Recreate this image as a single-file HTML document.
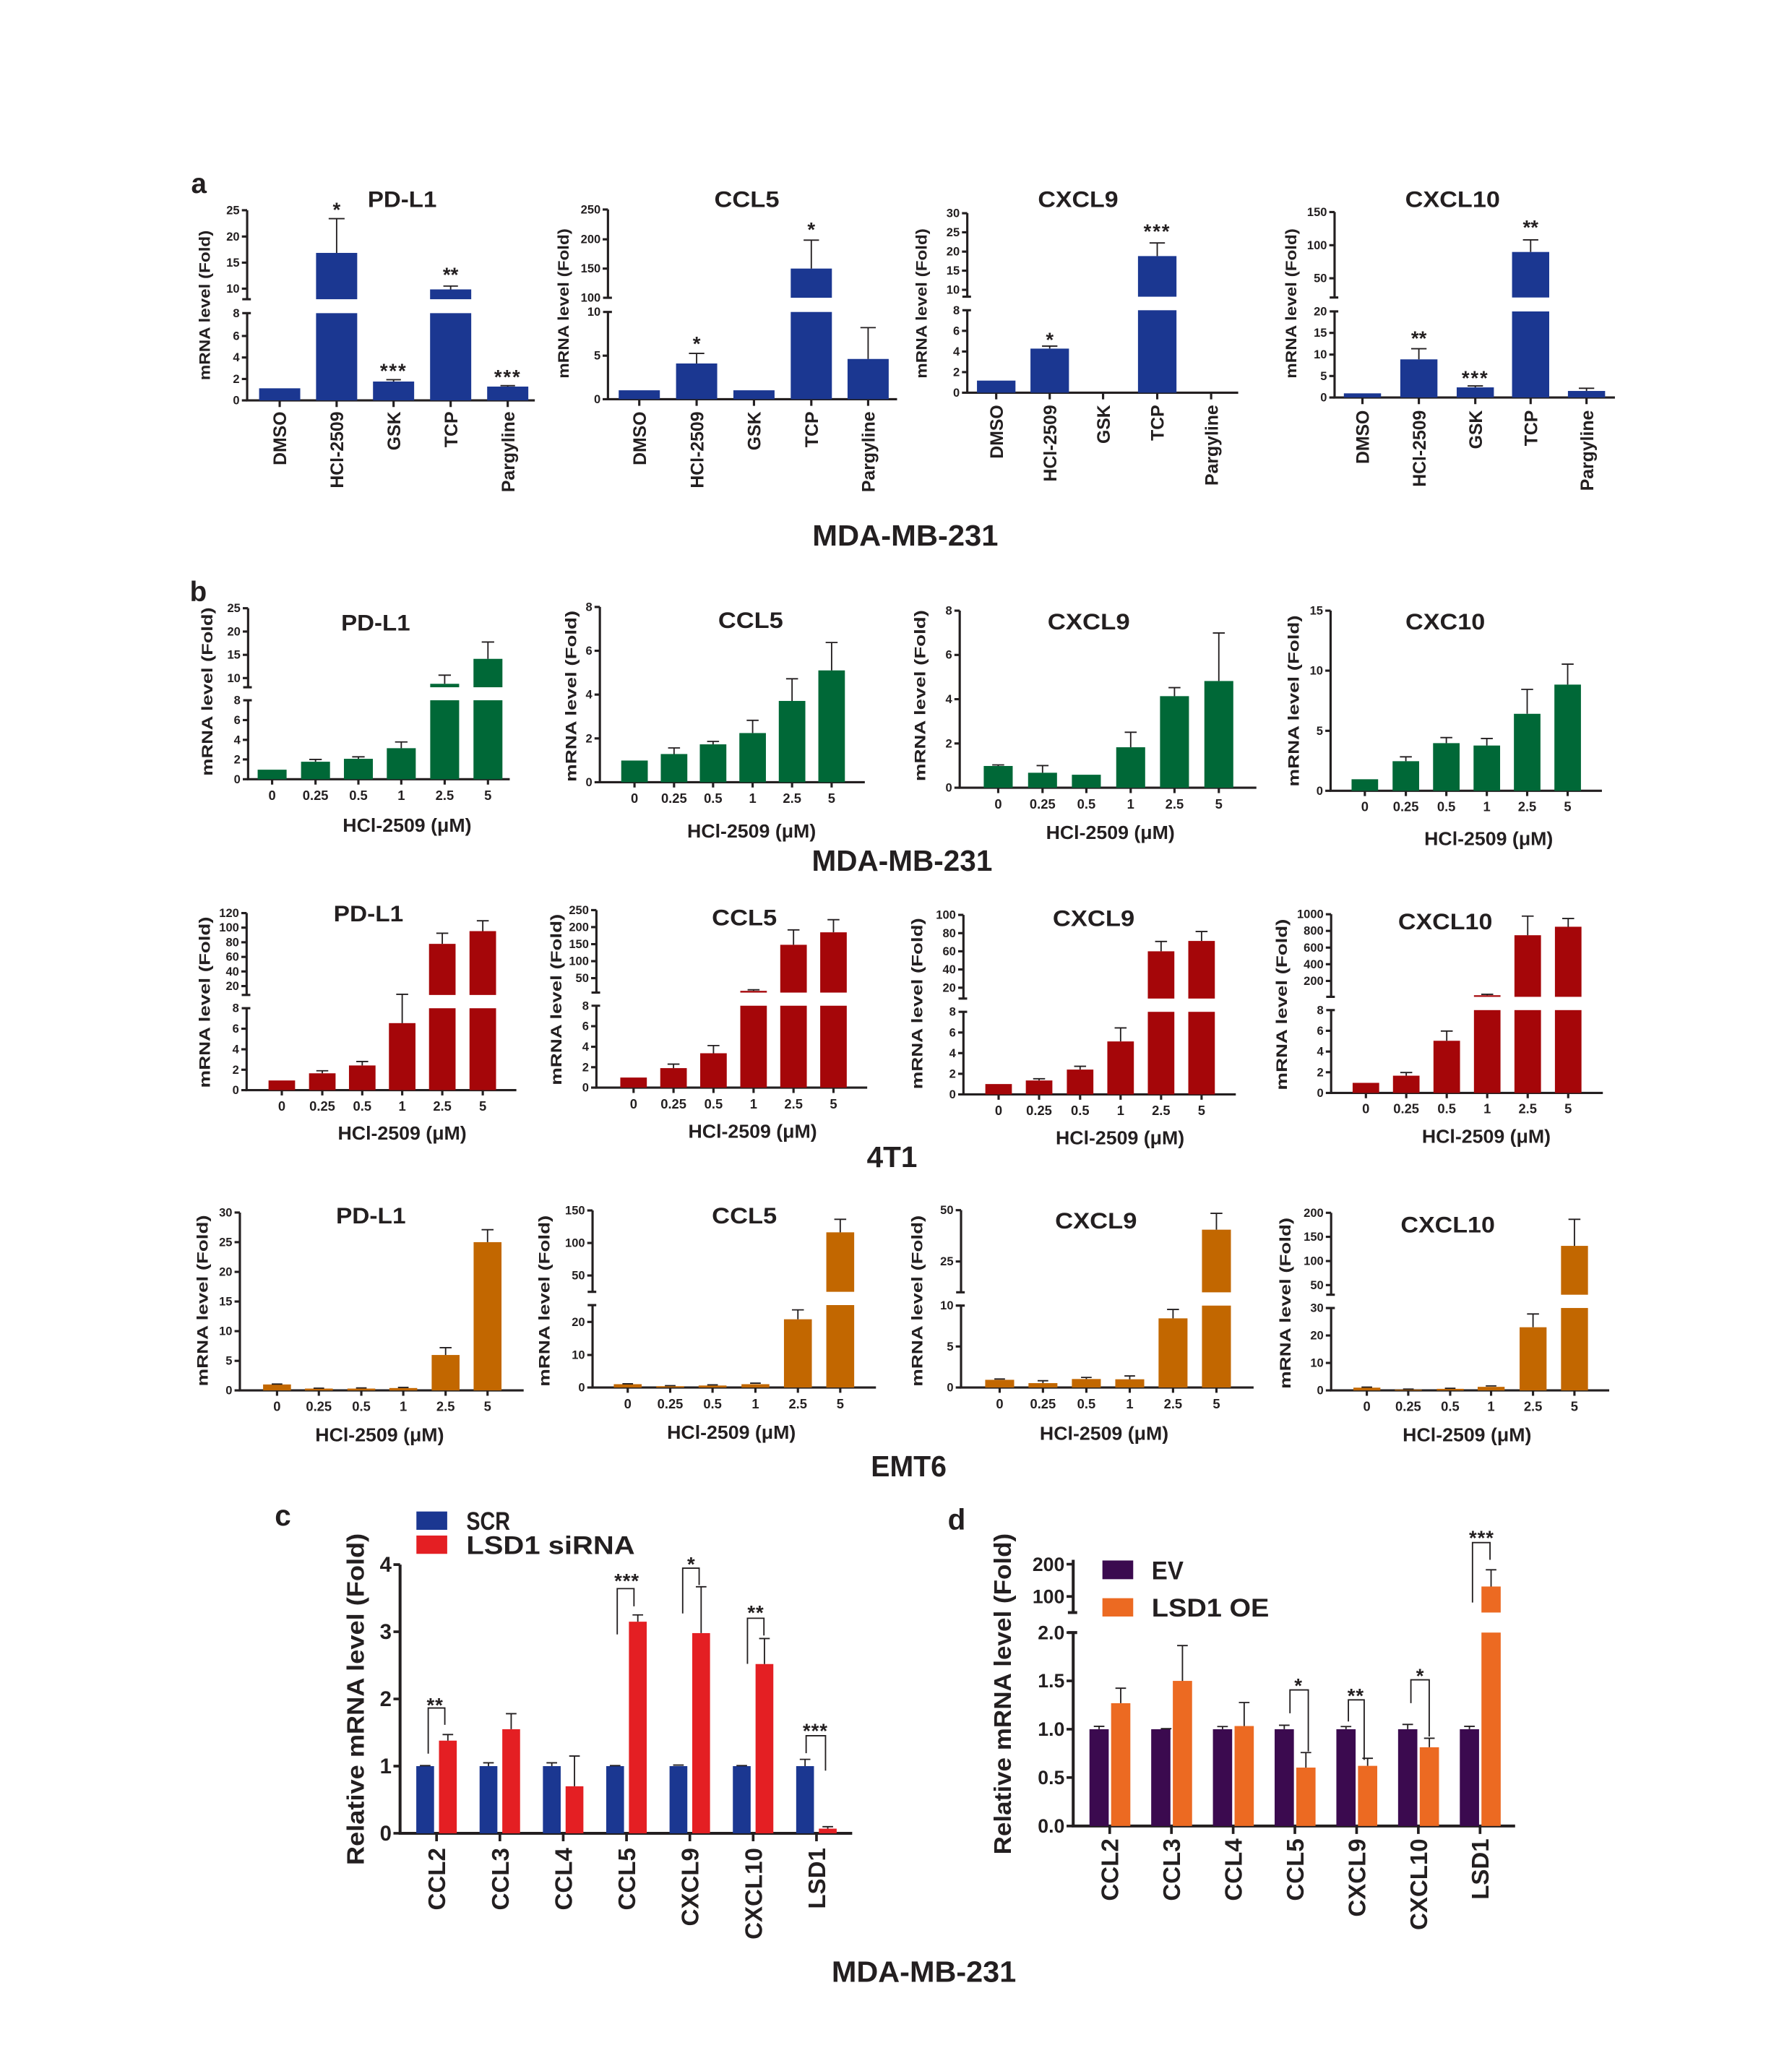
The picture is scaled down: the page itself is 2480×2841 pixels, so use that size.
<!DOCTYPE html>
<html><head><meta charset="utf-8"><style>
html,body{margin:0;padding:0;background:#fff}
svg{display:block}
text{font-family:"Liberation Sans",Arial,sans-serif;font-weight:bold;fill:#231f20}
.ax{stroke:#231f20;stroke-width:1.7;fill:none}
.e{stroke:#231f20;stroke-width:1;fill:none}
.t{font-size:9px;text-anchor:end}
.t2{font-size:10px;text-anchor:middle}
.xl{font-size:13.5px;text-anchor:end}
.yl{font-size:11.5px;text-anchor:middle}
.ti{font-size:17px;text-anchor:middle}
.st{font-size:15px;text-anchor:middle}
.bl{fill:#1b3791}.gr{fill:#006837}.rd{fill:#a50609}.or{fill:#c26700}
.cb{fill:#1b3791}.cr{fill:#e41f23}.dp{fill:#3b0a4f}.do{fill:#ec6a22}
</style></head><body>
<svg width="2480" height="2841" viewBox="0 0 1350 1546.5" xmlns="http://www.w3.org/2000/svg">
<rect width="1350" height="1546.5" fill="#fff"/>

<!-- letters -->
<text x="144" y="145.3" style="font-size:21px">a</text>
<text x="143" y="453" style="font-size:21px">b</text>
<text x="207" y="1149" style="font-size:22px">c</text>
<text x="714" y="1152" style="font-size:22px">d</text>

<!-- ========== PANEL A ========== -->
<!-- a1 PD-L1 -->
<g>
<path class="ax" d="M186.2,235.9V301.6H402.9M186.2,158.4V225.4M182.5,225.4H189M182.5,235.9H189"/>
<path class="ax" d="M182.2,301.6h4M182.2,285.5h4M182.2,269.3h4M182.2,253.1h4M182.2,217.4h4M182.2,197.8h4M182.2,178.2h4M182.2,158.4h4"/>
<text class="t" x="180.5" y="304.6">0</text><text class="t" x="180.5" y="288.5">2</text><text class="t" x="180.5" y="272.3">4</text><text class="t" x="180.5" y="256.1">6</text><text class="t" x="180.5" y="238.9">8</text>
<text class="t" x="180.5" y="220.4">10</text><text class="t" x="180.5" y="200.8">15</text><text class="t" x="180.5" y="181.2">20</text><text class="t" x="180.5" y="161.4">25</text>
<rect class="bl" x="195.2" y="292.5" width="31" height="9.1"/>
<rect class="bl" x="238.1" y="235.9" width="31" height="65.7"/><rect class="bl" x="238.1" y="190.5" width="31" height="34.9"/>
<rect class="bl" x="281" y="287.4" width="31" height="14.2"/>
<rect class="bl" x="324" y="235.9" width="31" height="65.7"/><rect class="bl" x="324" y="218" width="31" height="7.4"/>
<rect class="bl" x="367" y="291.2" width="31" height="10.4"/>
<path class="e" d="M253.6,190.5V164.7M247.6,164.7h12M296.5,287.4V286M291,286h11M339.5,218V215.5M334,215.5h11M382.5,291.2V290.5M377,290.5h11"/>
<path class="ax" d="M210.7,301.6v5M253.6,301.6v5M296.5,301.6v5M339.5,301.6v5M382.5,301.6v5"/>
<text class="st" x="253.6" y="163">*</text><text class="st" x="296.5" y="284.5" letter-spacing="1">***</text><text class="st" x="339.5" y="212">**</text><text class="st" x="382.5" y="289" letter-spacing="1">***</text>
<g class="xl">
<text transform="translate(215.5,310) rotate(-90)">DMSO</text>
<text transform="translate(258.5,310) rotate(-90)">HCl-2509</text>
<text transform="translate(301.5,310) rotate(-90)">GSK</text>
<text transform="translate(344.5,310) rotate(-90)">TCP</text>
<text transform="translate(387.5,310) rotate(-90)">Pargyline</text>
</g>
<text class="yl" transform="translate(158,230) rotate(-90)" textLength="113" lengthAdjust="spacingAndGlyphs">mRNA level (Fold)</text>
<text class="ti" x="303" y="156" textLength="52" lengthAdjust="spacingAndGlyphs">PD-L1</text>
</g>

<!-- a2 CCL5 -->
<g>
<path class="ax" d="M458,235V300.7H675.8M458,157.8V224.3M454.3,224.3H461M454.3,235H461"/>
<path class="ax" d="M454,300.7h4M454,267.9h4M454,202.3h4M454,180.3h4M454,157.8h4"/>
<text class="t" x="452.5" y="303.7">0</text><text class="t" x="452.5" y="270.9">5</text><text class="t" x="452.5" y="238">10</text>
<text class="t" x="452.5" y="227.3">100</text><text class="t" x="452.5" y="205.3">150</text><text class="t" x="452.5" y="183.3">200</text><text class="t" x="452.5" y="160.8">250</text>
<rect class="bl" x="466.1" y="294" width="31" height="6.7"/>
<rect class="bl" x="509.3" y="273.8" width="31" height="26.9"/>
<rect class="bl" x="552.5" y="294" width="31" height="6.7"/>
<rect class="bl" x="595.7" y="235" width="31" height="65.7"/><rect class="bl" x="595.7" y="202.3" width="31" height="22"/>
<rect class="bl" x="638.5" y="270.4" width="31" height="30.3"/>
<path class="e" d="M524.8,273.8V266.2M519,266.2h11.6M611.2,202.3V180.9M605.4,180.9h11.6M654,270.4V246.8M648.2,246.8h11.6"/>
<path class="ax" d="M481.6,300.7v5M524.8,300.7v5M568,300.7v5M611.2,300.7v5M654,300.7v5"/>
<text class="st" x="524.8" y="264">*</text><text class="st" x="611.2" y="178">*</text>
<g class="xl">
<text transform="translate(486.6,310) rotate(-90)">DMSO</text>
<text transform="translate(529.8,310) rotate(-90)">HCl-2509</text>
<text transform="translate(573,310) rotate(-90)">GSK</text>
<text transform="translate(616.2,310) rotate(-90)">TCP</text>
<text transform="translate(659,310) rotate(-90)">Pargyline</text>
</g>
<text class="yl" transform="translate(428.5,228.6) rotate(-90)" textLength="113" lengthAdjust="spacingAndGlyphs">mRNA level (Fold)</text>
<text class="ti" x="562.6" y="156" textLength="49" lengthAdjust="spacingAndGlyphs">CCL5</text>
</g>

<!-- a3 CXCL9 -->
<g>
<path class="ax" d="M728.7,233.7V295.8H932.8M728.7,160.6V223.5M725,223.5H731.5M725,233.7H731.5"/>
<path class="ax" d="M724.7,295.8h4M724.7,280.3h4M724.7,264.8h4M724.7,249.2h4M724.7,218.3h4M724.7,203.9h4M724.7,189.5h4M724.7,175h4M724.7,160.6h4"/>
<text class="t" x="723" y="298.8">0</text><text class="t" x="723" y="283.3">2</text><text class="t" x="723" y="267.8">4</text><text class="t" x="723" y="252.2">6</text><text class="t" x="723" y="236.7">8</text>
<text class="t" x="723" y="221.3">10</text><text class="t" x="723" y="206.9">15</text><text class="t" x="723" y="192.5">20</text><text class="t" x="723" y="178">25</text><text class="t" x="723" y="163.6">30</text>
<rect class="bl" x="736" y="286.7" width="29" height="9.1"/>
<rect class="bl" x="776.3" y="262.6" width="29" height="33.2"/>
<rect class="bl" x="857.3" y="233.7" width="29" height="62.1"/><rect class="bl" x="857.3" y="192.9" width="29" height="30.6"/>
<path class="e" d="M790.8,262.6V260.7M785,260.7h11.6M871.8,192.9V183M866,183h11.6"/>
<path class="ax" d="M750.5,295.8v5M790.8,295.8v5M831,295.8v5M871.8,295.8v5M912.4,295.8v5"/>
<text class="st" x="790.8" y="261">*</text><text class="st" x="871.8" y="179.5" letter-spacing="1">***</text>
<g class="xl">
<text transform="translate(755.5,305) rotate(-90)">DMSO</text>
<text transform="translate(795.8,305) rotate(-90)">HCl-2509</text>
<text transform="translate(836,305) rotate(-90)">GSK</text>
<text transform="translate(876.8,305) rotate(-90)">TCP</text>
<text transform="translate(917.4,305) rotate(-90)">Pargyline</text>
</g>
<text class="yl" transform="translate(698,228.6) rotate(-90)" textLength="113" lengthAdjust="spacingAndGlyphs">mRNA level (Fold)</text>
<text class="ti" x="812.2" y="156" textLength="60.6" lengthAdjust="spacingAndGlyphs">CXCL9</text>
</g>

<!-- a4 CXCL10 -->
<g>
<path class="ax" d="M1005.4,234.6V299.4H1216.6M1005.4,159.7V224.1M1001.7,224.1H1008.2M1001.7,234.6H1008.2"/>
<path class="ax" d="M1001.4,299.4h4M1001.4,283.2h4M1001.4,267.1h4M1001.4,250.8h4M1001.4,209.6h4M1001.4,184.7h4M1001.4,159.7h4"/>
<text class="t" x="999.7" y="302.4">0</text><text class="t" x="999.7" y="286.2">5</text><text class="t" x="999.7" y="270.1">10</text><text class="t" x="999.7" y="253.8">15</text><text class="t" x="999.7" y="237.6">20</text>
<text class="t" x="999.7" y="212.6">50</text><text class="t" x="999.7" y="187.7">100</text><text class="t" x="999.7" y="162.7">150</text>
<rect class="bl" x="1012.4" y="296.3" width="28" height="3.1"/>
<rect class="bl" x="1054.9" y="270.7" width="28" height="28.7"/>
<rect class="bl" x="1097.4" y="291.8" width="28" height="7.6"/>
<rect class="bl" x="1139.1" y="234.6" width="28" height="64.8"/><rect class="bl" x="1139.1" y="189.8" width="28" height="34.3"/>
<rect class="bl" x="1181.2" y="294.5" width="28" height="4.9"/>
<path class="e" d="M1068.9,270.7V262.7M1063.1,262.7h11.6M1111.4,291.8V290.7M1105.6,290.7h11.6M1153.1,189.8V180.7M1147.3,180.7h11.6M1195.2,294.5V292.5M1189.4,292.5h11.6"/>
<path class="ax" d="M1026.4,299.4v5M1068.9,299.4v5M1111.4,299.4v5M1153.1,299.4v5M1195.2,299.4v5"/>
<text class="st" x="1068.9" y="260">**</text><text class="st" x="1111.4" y="290" letter-spacing="1">***</text><text class="st" x="1153.1" y="176.5">**</text>
<g class="xl">
<text transform="translate(1031.4,309) rotate(-90)">DMSO</text>
<text transform="translate(1073.9,309) rotate(-90)">HCl-2509</text>
<text transform="translate(1116.4,309) rotate(-90)">GSK</text>
<text transform="translate(1158.1,309) rotate(-90)">TCP</text>
<text transform="translate(1200.2,309) rotate(-90)">Pargyline</text>
</g>
<text class="yl" transform="translate(976.5,228.6) rotate(-90)" textLength="113" lengthAdjust="spacingAndGlyphs">mRNA level (Fold)</text>
<text class="ti" x="1094.3" y="156" textLength="71.5" lengthAdjust="spacingAndGlyphs">CXCL10</text>
</g>
<text x="682" y="411" style="font-size:22px;text-anchor:middle" textLength="140" lengthAdjust="spacingAndGlyphs">MDA-MB-231</text>

<!-- ========== ROW B (green) ========== -->
<!-- b1 -->
<g>
<path class="ax" d="M186.9,527.5V587H384M186.9,458.2V517.7M183.2,517.7H189.7M183.2,527.5H189.7"/>
<path class="ax" d="M182.9,587h4M182.9,572.1h4M182.9,557.3h4M182.9,542.4h4M182.9,510.8h4M182.9,493.3h4M182.9,475.7h4M182.9,458.2h4"/>
<text class="t" x="181.2" y="590">0</text><text class="t" x="181.2" y="575.1">2</text><text class="t" x="181.2" y="560.3">4</text><text class="t" x="181.2" y="545.4">6</text><text class="t" x="181.2" y="530.5">8</text>
<text class="t" x="181.2" y="513.8">10</text><text class="t" x="181.2" y="496.3">15</text><text class="t" x="181.2" y="478.7">20</text><text class="t" x="181.2" y="461.2">25</text>
<rect class="gr" x="194.1" y="579.8" width="21.8" height="7.2"/>
<rect class="gr" x="226.8" y="573.8" width="21.8" height="13.2"/>
<rect class="gr" x="259.1" y="571.6" width="21.8" height="15.4"/>
<rect class="gr" x="291.4" y="563.6" width="21.8" height="23.4"/>
<rect class="gr" x="324.1" y="527.5" width="21.8" height="59.5"/><rect class="gr" x="324.1" y="515.1" width="21.8" height="2.6"/>
<rect class="gr" x="356.7" y="527.5" width="21.8" height="59.5"/><rect class="gr" x="356.7" y="496.3" width="21.8" height="21.4"/>
<path class="e" d="M237.7,573.8V572.1M233,572.1h9.4M270,571.6V570.1M265.3,570.1h9.4M302.3,563.6V558.9M297.6,558.9h9.4M335,515.1V508.6M330.3,508.6h9.4M367.6,496.3V483.6M362.9,483.6h9.4"/>
<path class="ax" d="M205,587v4M237.7,587v4M270,587v4M302.3,587v4M335,587v4M367.6,587v4"/>
<g class="t2"><text x="205" y="602.5">0</text><text x="237.7" y="602.5">0.25</text><text x="270" y="602.5">0.5</text><text x="302.3" y="602.5">1</text><text x="335" y="602.5">2.5</text><text x="367.6" y="602.5">5</text></g>
<text x="306.7" y="626.5" style="font-size:14px;text-anchor:middle" textLength="97" lengthAdjust="spacingAndGlyphs">HCl-2509 (μM)</text>
<text class="ti" x="283" y="475" textLength="52" lengthAdjust="spacingAndGlyphs">PD-L1</text>
<text class="yl" transform="translate(160,521) rotate(-90)" textLength="127" lengthAdjust="spacingAndGlyphs">mRNA level (Fold)</text>
</g>
<!-- b2 -->
<g>
<path class="ax" d="M451.9,457.2V589.2H651.5"/>
<path class="ax" d="M447.9,589.2h4M447.9,556.2h4M447.9,523.2h4M447.9,490.2h4M447.9,457.2h4"/>
<text class="t" x="446.2" y="592.2">0</text><text class="t" x="446.2" y="559.2">2</text><text class="t" x="446.2" y="526.2">4</text><text class="t" x="446.2" y="493.2">6</text><text class="t" x="446.2" y="460.2">8</text>
<rect class="gr" x="468" y="572.9" width="20" height="16.3"/>
<rect class="gr" x="497.8" y="568" width="20" height="21.2"/>
<rect class="gr" x="527.2" y="560.7" width="20" height="28.5"/>
<rect class="gr" x="557" y="552.2" width="20" height="37"/>
<rect class="gr" x="586.7" y="528" width="20" height="61.2"/>
<rect class="gr" x="616.5" y="505" width="20" height="84.2"/>
<path class="e" d="M507.8,568V563.4M503.3,563.4h9M537.2,560.7V558.5M532.7,558.5h9M567,552.2V542.6M562.5,542.6h9M596.7,528V511.3M592.2,511.3h9M626.5,505V484M622,484h9"/>
<path class="ax" d="M478,589.2v4M507.8,589.2v4M537.2,589.2v4M567,589.2v4M596.7,589.2v4M626.5,589.2v4"/>
<g class="t2"><text x="478" y="604.7">0</text><text x="507.8" y="604.7">0.25</text><text x="537.2" y="604.7">0.5</text><text x="567" y="604.7">1</text><text x="596.7" y="604.7">2.5</text><text x="626.5" y="604.7">5</text></g>
<text x="566.2" y="631" style="font-size:14px;text-anchor:middle" textLength="97" lengthAdjust="spacingAndGlyphs">HCl-2509 (μM)</text>
<text class="ti" x="565.5" y="473" textLength="49" lengthAdjust="spacingAndGlyphs">CCL5</text>
<text class="yl" transform="translate(434,524.4) rotate(-90)" textLength="129" lengthAdjust="spacingAndGlyphs">mRNA level (Fold)</text>
</g>
<!-- b3 -->
<g>
<path class="ax" d="M723,460V593.4H946.5"/>
<path class="ax" d="M719,593.4h4M719,560.05h4M719,526.7h4M719,493.35h4M719,460h4"/>
<text class="t" x="717.3" y="596.4">0</text><text class="t" x="717.3" y="563">2</text><text class="t" x="717.3" y="529.7">4</text><text class="t" x="717.3" y="496.3">6</text><text class="t" x="717.3" y="463">8</text>
<rect class="gr" x="741.1" y="577" width="21.8" height="16.4"/>
<rect class="gr" x="774.5" y="582.1" width="21.8" height="11.3"/>
<rect class="gr" x="807.5" y="583.6" width="21.8" height="9.8"/>
<rect class="gr" x="840.9" y="562.9" width="21.8" height="30.5"/>
<rect class="gr" x="873.9" y="524.4" width="21.8" height="69"/>
<rect class="gr" x="907.3" y="513" width="21.8" height="80.4"/>
<path class="e" d="M752,577V576.2M747.5,576.2h9M785.4,582.1V576.7M780.9,576.7h9M851.8,562.9V551.6M847.3,551.6h9M884.8,524.4V518M880.3,518h9M918.2,513V476.8M913.7,476.8h9"/>
<path class="ax" d="M752,593.4v4M785.4,593.4v4M818.4,593.4v4M851.8,593.4v4M884.8,593.4v4M918.2,593.4v4"/>
<g class="t2"><text x="752" y="609.2">0</text><text x="785.4" y="609.2">0.25</text><text x="818.4" y="609.2">0.5</text><text x="851.8" y="609.2">1</text><text x="884.8" y="609.2">2.5</text><text x="918.2" y="609.2">5</text></g>
<text x="836.5" y="632" style="font-size:14px;text-anchor:middle" textLength="97" lengthAdjust="spacingAndGlyphs">HCl-2509 (μM)</text>
<text class="ti" x="820.2" y="474" textLength="62" lengthAdjust="spacingAndGlyphs">CXCL9</text>
<text class="yl" transform="translate(697,524) rotate(-90)" textLength="129" lengthAdjust="spacingAndGlyphs">mRNA level (Fold)</text>
</g>
<!-- b4 -->
<g>
<path class="ax" d="M1002.4,460V595.7H1206.8"/>
<path class="ax" d="M998.4,595.7h4M998.4,550.5h4M998.4,505.2h4M998.4,460h4"/>
<text class="t" x="996.7" y="598.7">0</text><text class="t" x="996.7" y="553.5">5</text><text class="t" x="996.7" y="508.2">10</text><text class="t" x="996.7" y="463">15</text>
<rect class="gr" x="1018.2" y="587" width="20" height="8.7"/>
<rect class="gr" x="1049.1" y="573.4" width="20" height="22.3"/>
<rect class="gr" x="1079.6" y="559.8" width="20" height="35.9"/>
<rect class="gr" x="1110.1" y="561.6" width="20" height="34.1"/>
<rect class="gr" x="1140.5" y="537.7" width="20" height="58"/>
<rect class="gr" x="1171" y="515.7" width="20" height="80"/>
<path class="e" d="M1059.1,573.4V570.1M1054.6,570.1h9M1089.6,559.8V555.6M1085.1,555.6h9M1120.1,561.6V556.3M1115.6,556.3h9M1150.5,537.7V519.3M1146,519.3h9M1181,515.7V500.3M1176.5,500.3h9"/>
<path class="ax" d="M1028.2,595.7v4M1059.1,595.7v4M1089.6,595.7v4M1120.1,595.7v4M1150.5,595.7v4M1181,595.7v4"/>
<g class="t2"><text x="1028.2" y="611">0</text><text x="1059.1" y="611">0.25</text><text x="1089.6" y="611">0.5</text><text x="1120.1" y="611">1</text><text x="1150.5" y="611">2.5</text><text x="1181" y="611">5</text></g>
<text x="1121.5" y="636.5" style="font-size:14px;text-anchor:middle" textLength="97" lengthAdjust="spacingAndGlyphs">HCl-2509 (μM)</text>
<text class="ti" x="1088.8" y="474" textLength="60" lengthAdjust="spacingAndGlyphs">CXC10</text>
<text class="yl" transform="translate(978.5,528) rotate(-90)" textLength="129" lengthAdjust="spacingAndGlyphs">mRNA level (Fold)</text>
</g>
<text x="679.6" y="656" style="font-size:22px;text-anchor:middle" textLength="136" lengthAdjust="spacingAndGlyphs">MDA-MB-231</text>

<!-- ========== ROW 4T1 (red) ========== -->
<!-- c1 -->
<g>
<path class="ax" d="M185.8,759.5V821.2H389M185.8,687.8V749.5M182.1,749.5H188.6M182.1,759.5H188.6"/>
<path class="ax" d="M181.8,821.2h4M181.8,805.8h4M181.8,790.4h4M181.8,774.9h4M181.8,742.8h4M181.8,731.8h4M181.8,720.8h4M181.8,709.8h4M181.8,698.8h4M181.8,687.8h4"/>
<text class="t" x="180.1" y="824.2">0</text><text class="t" x="180.1" y="808.8">2</text><text class="t" x="180.1" y="793.4">4</text><text class="t" x="180.1" y="777.9">6</text><text class="t" x="180.1" y="762.5">8</text>
<text class="t" x="180.1" y="745.8">20</text><text class="t" x="180.1" y="734.8">40</text><text class="t" x="180.1" y="723.8">60</text><text class="t" x="180.1" y="712.8">80</text><text class="t" x="180.1" y="701.8">100</text><text class="t" x="180.1" y="690.8">120</text>
<rect class="rd" x="202.3" y="813.9" width="20" height="7.3"/>
<rect class="rd" x="232.8" y="808.5" width="20" height="12.7"/>
<rect class="rd" x="262.9" y="802.6" width="20" height="18.6"/>
<rect class="rd" x="293" y="770.7" width="20" height="50.5"/>
<rect class="rd" x="323.2" y="759.5" width="20" height="61.7"/><rect class="rd" x="323.2" y="711" width="20" height="38.5"/>
<rect class="rd" x="353.7" y="759.5" width="20" height="61.7"/><rect class="rd" x="353.7" y="701.4" width="20" height="48.1"/>
<path class="e" d="M242.8,808.5V806.6M238.3,806.6h9M272.9,802.6V799.6M268.4,799.6h9M303,770.7V749M298.5,749h9M333.2,711V703M328.7,703h9M363.7,701.4V693.6M359.2,693.6h9"/>
<path class="ax" d="M212.3,821.2v4M242.8,821.2v4M272.9,821.2v4M303,821.2v4M333.2,821.2v4M363.7,821.2v4"/>
<g class="t2"><text x="212.3" y="836.7">0</text><text x="242.8" y="836.7">0.25</text><text x="272.9" y="836.7">0.5</text><text x="303" y="836.7">1</text><text x="333.2" y="836.7">2.5</text><text x="363.7" y="836.7">5</text></g>
<text x="303" y="858.5" style="font-size:14px;text-anchor:middle" textLength="97" lengthAdjust="spacingAndGlyphs">HCl-2509 (μM)</text>
<text class="ti" x="277.6" y="694" textLength="52.6" lengthAdjust="spacingAndGlyphs">PD-L1</text>
<text class="yl" transform="translate(158,755) rotate(-90)" textLength="129" lengthAdjust="spacingAndGlyphs">mRNA level (Fold)</text>
</g>
<!-- c2 -->
<g>
<path class="ax" d="M449.3,757.6V819.3H653.3M449.3,685.6V747.7M445.6,747.7H452.1M445.6,757.6H452.1"/>
<path class="ax" d="M445.3,819.3h4M445.3,803.9h4M445.3,788.5h4M445.3,773h4M445.3,736.8h4M445.3,724h4M445.3,711.2h4M445.3,698.4h4M445.3,685.6h4"/>
<text class="t" x="443.6" y="822.3">0</text><text class="t" x="443.6" y="806.9">2</text><text class="t" x="443.6" y="791.5">4</text><text class="t" x="443.6" y="776">6</text><text class="t" x="443.6" y="760.6">8</text>
<text class="t" x="443.6" y="739.8">50</text><text class="t" x="443.6" y="727">100</text><text class="t" x="443.6" y="714.2">150</text><text class="t" x="443.6" y="701.4">200</text><text class="t" x="443.6" y="688.6">250</text>
<rect class="rd" x="467.3" y="811.7" width="20" height="7.6"/>
<rect class="rd" x="497.4" y="804.6" width="20" height="14.7"/>
<rect class="rd" x="527.5" y="793.4" width="20" height="25.9"/>
<rect class="rd" x="557.7" y="757.6" width="20" height="61.7"/><rect class="rd" x="557.7" y="746.4" width="20" height="1.3"/>
<rect class="rd" x="587.8" y="757.6" width="20" height="61.7"/><rect class="rd" x="587.8" y="711.7" width="20" height="36"/>
<rect class="rd" x="617.9" y="757.6" width="20" height="61.7"/><rect class="rd" x="617.9" y="702.3" width="20" height="45.4"/>
<path class="e" d="M507.4,804.6V801.6M502.9,801.6h9M537.5,793.4V787.6M533,787.6h9M567.7,746.4V745.6M563.2,745.6h9M597.8,711.7V700.5M593.3,700.5h9M627.9,702.3V692.8M623.4,692.8h9"/>
<path class="ax" d="M477.3,819.3v4M507.4,819.3v4M537.5,819.3v4M567.7,819.3v4M597.8,819.3v4M627.9,819.3v4"/>
<g class="t2"><text x="477.3" y="835">0</text><text x="507.4" y="835">0.25</text><text x="537.5" y="835">0.5</text><text x="567.7" y="835">1</text><text x="597.8" y="835">2.5</text><text x="627.9" y="835">5</text></g>
<text x="567" y="857" style="font-size:14px;text-anchor:middle" textLength="97" lengthAdjust="spacingAndGlyphs">HCl-2509 (μM)</text>
<text class="ti" x="560.8" y="697" textLength="49" lengthAdjust="spacingAndGlyphs">CCL5</text>
<text class="yl" transform="translate(423,753) rotate(-90)" textLength="129" lengthAdjust="spacingAndGlyphs">mRNA level (Fold)</text>
</g>
<!-- c3 -->
<g>
<path class="ax" d="M725.8,762.2V824.4H931M725.8,689.2V752.2M722.1,752.2H728.6M722.1,762.2H728.6"/>
<path class="ax" d="M721.8,824.4h4M721.8,808.85h4M721.8,793.3h4M721.8,777.75h4M721.8,744h4M721.8,730.3h4M721.8,716.6h4M721.8,702.9h4M721.8,689.2h4"/>
<text class="t" x="720.1" y="827.4">0</text><text class="t" x="720.1" y="811.9">2</text><text class="t" x="720.1" y="796.3">4</text><text class="t" x="720.1" y="780.8">6</text><text class="t" x="720.1" y="765.2">8</text>
<text class="t" x="720.1" y="747">20</text><text class="t" x="720.1" y="733.3">40</text><text class="t" x="720.1" y="719.6">60</text><text class="t" x="720.1" y="705.9">80</text><text class="t" x="720.1" y="692.2">100</text>
<rect class="rd" x="742.3" y="816.6" width="20" height="7.8"/>
<rect class="rd" x="772.8" y="813.9" width="20" height="10.5"/>
<rect class="rd" x="803.7" y="805.7" width="20" height="18.7"/>
<rect class="rd" x="834.2" y="784.5" width="20" height="39.9"/>
<rect class="rd" x="864.7" y="762.2" width="20" height="62.2"/><rect class="rd" x="864.7" y="716.6" width="20" height="35.6"/>
<rect class="rd" x="895.2" y="762.2" width="20" height="62.2"/><rect class="rd" x="895.2" y="708.8" width="20" height="43.4"/>
<path class="e" d="M782.8,813.9V812.6M778.3,812.6h9M813.7,805.7V803.2M809.2,803.2h9M844.2,784.5V774.3M839.7,774.3h9M874.7,716.6V709.2M870.2,709.2h9M905.2,708.8V701.7M900.7,701.7h9"/>
<path class="ax" d="M752.3,824.4v4M782.8,824.4v4M813.7,824.4v4M844.2,824.4v4M874.7,824.4v4M905.2,824.4v4"/>
<g class="t2"><text x="752.3" y="840">0</text><text x="782.8" y="840">0.25</text><text x="813.7" y="840">0.5</text><text x="844.2" y="840">1</text><text x="874.7" y="840">2.5</text><text x="905.2" y="840">5</text></g>
<text x="843.8" y="862" style="font-size:14px;text-anchor:middle" textLength="97" lengthAdjust="spacingAndGlyphs">HCl-2509 (μM)</text>
<text class="ti" x="823.9" y="697.5" textLength="61.7" lengthAdjust="spacingAndGlyphs">CXCL9</text>
<text class="yl" transform="translate(695,756) rotate(-90)" textLength="129" lengthAdjust="spacingAndGlyphs">mRNA level (Fold)</text>
</g>
<!-- c4 -->
<g>
<path class="ax" d="M1002.8,760.9V823.3H1207.5M1002.8,688.7V750.9M999.1,750.9H1005.6M999.1,760.9H1005.6"/>
<path class="ax" d="M998.8,823.3h4M998.8,807.7h4M998.8,792.1h4M998.8,776.5h4M998.8,738.9h4M998.8,726.3h4M998.8,713.8h4M998.8,701.2h4M998.8,688.7h4"/>
<text class="t" x="997.1" y="826.3">0</text><text class="t" x="997.1" y="810.7">2</text><text class="t" x="997.1" y="795.1">4</text><text class="t" x="997.1" y="779.5">6</text><text class="t" x="997.1" y="763.9">8</text>
<text class="t" x="997.1" y="741.9">200</text><text class="t" x="997.1" y="729.3">400</text><text class="t" x="997.1" y="716.8">600</text><text class="t" x="997.1" y="704.2">800</text><text class="t" x="997.1" y="691.7">1000</text>
<rect class="rd" x="1019" y="815.7" width="20" height="7.6"/>
<rect class="rd" x="1049.4" y="810.3" width="20" height="13"/>
<rect class="rd" x="1079.9" y="784" width="20" height="39.3"/>
<rect class="rd" x="1110.4" y="760.9" width="20" height="62.4"/><rect class="rd" x="1110.4" y="749.7" width="20" height="1.2"/>
<rect class="rd" x="1140.9" y="760.9" width="20" height="62.4"/><rect class="rd" x="1140.9" y="704.5" width="20" height="46.4"/>
<rect class="rd" x="1171.4" y="760.9" width="20" height="62.4"/><rect class="rd" x="1171.4" y="698.1" width="20" height="52.8"/>
<path class="e" d="M1059.4,810.3V807.9M1054.9,807.9h9M1089.9,784V776.7M1085.4,776.7h9M1120.4,749.7V749M1115.9,749h9M1150.9,704.5V690.1M1146.4,690.1h9M1181.4,698.1V691.9M1176.9,691.9h9"/>
<path class="ax" d="M1029,823.3v4M1059.4,823.3v4M1089.9,823.3v4M1120.4,823.3v4M1150.9,823.3v4M1181.4,823.3v4"/>
<g class="t2"><text x="1029" y="838.5">0</text><text x="1059.4" y="838.5">0.25</text><text x="1089.9" y="838.5">0.5</text><text x="1120.4" y="838.5">1</text><text x="1150.9" y="838.5">2.5</text><text x="1181.4" y="838.5">5</text></g>
<text x="1119.7" y="861" style="font-size:14px;text-anchor:middle" textLength="97" lengthAdjust="spacingAndGlyphs">HCl-2509 (μM)</text>
<text class="ti" x="1088.8" y="700" textLength="71" lengthAdjust="spacingAndGlyphs">CXCL10</text>
<text class="yl" transform="translate(969.4,756.7) rotate(-90)" textLength="129" lengthAdjust="spacingAndGlyphs">mRNA level (Fold)</text>
</g>
<text x="672" y="879" style="font-size:22px;text-anchor:middle" textLength="38" lengthAdjust="spacingAndGlyphs">4T1</text>

<!-- ========== ROW EMT6 (orange) ========== -->
<!-- e1 -->
<g>
<path class="ax" d="M180.7,913.4V1047.4H394.5"/>
<path class="ax" d="M176.7,1047.4h4M176.7,1025.1h4M176.7,1002.7h4M176.7,980.4h4M176.7,958.1h4M176.7,935.7h4M176.7,913.4h4"/>
<text class="t" x="175" y="1050.4">0</text><text class="t" x="175" y="1028.1">5</text><text class="t" x="175" y="1005.7">10</text><text class="t" x="175" y="983.4">15</text><text class="t" x="175" y="961.1">20</text><text class="t" x="175" y="938.7">25</text><text class="t" x="175" y="916.4">30</text>
<rect class="or" x="198.2" y="1042.9" width="21" height="4.5"/>
<rect class="or" x="229.7" y="1046" width="21" height="1.4"/>
<rect class="or" x="261.7" y="1046" width="21" height="1.4"/>
<rect class="or" x="293.3" y="1045.6" width="21" height="1.8"/>
<rect class="or" x="325.2" y="1020.7" width="21" height="26.7"/>
<rect class="or" x="356.8" y="935.7" width="21" height="111.7"/>
<path class="e" d="M204.7,1042.6h8M236.2,1045.7h8M268.2,1045.5h8M299.8,1045.1h8M335.7,1020.7V1015.2M331.2,1015.2h9M367.3,935.7V926.3M362.8,926.3h9"/>
<path class="ax" d="M208.7,1047.4v4M240.2,1047.4v4M272.2,1047.4v4M303.8,1047.4v4M335.7,1047.4v4M367.3,1047.4v4"/>
<g class="t2"><text x="208.7" y="1062.9">0</text><text x="240.2" y="1062.9">0.25</text><text x="272.2" y="1062.9">0.5</text><text x="303.8" y="1062.9">1</text><text x="335.7" y="1062.9">2.5</text><text x="367.3" y="1062.9">5</text></g>
<text x="286" y="1085.6" style="font-size:14px;text-anchor:middle" textLength="97" lengthAdjust="spacingAndGlyphs">HCl-2509 (μM)</text>
<text class="ti" x="279.4" y="921.5" textLength="52.6" lengthAdjust="spacingAndGlyphs">PD-L1</text>
<text class="yl" transform="translate(156.4,979.8) rotate(-90)" textLength="129" lengthAdjust="spacingAndGlyphs">mRNA level (Fold)</text>
</g>
<!-- e2 -->
<g>
<path class="ax" d="M446.4,983.1V1045.2H659.9M446.4,911.8V973.1M442.7,973.1H449.2M442.7,983.1H449.2"/>
<path class="ax" d="M442.4,1045.2h4M442.4,1020.7h4M442.4,995.8h4M442.4,960.8h4M442.4,936.3h4M442.4,911.8h4"/>
<text class="t" x="440.7" y="1048.2">0</text><text class="t" x="440.7" y="1023.7">10</text><text class="t" x="440.7" y="998.8">20</text>
<text class="t" x="440.7" y="963.8">50</text><text class="t" x="440.7" y="939.3">100</text><text class="t" x="440.7" y="914.8">150</text>
<rect class="or" x="462.4" y="1042.7" width="21" height="2.5"/>
<rect class="or" x="494.4" y="1044.2" width="21" height="1"/>
<rect class="or" x="526.3" y="1043.7" width="21" height="1.5"/>
<rect class="or" x="558.6" y="1042.7" width="21" height="2.5"/>
<rect class="or" x="590.6" y="993.8" width="21" height="51.4"/>
<rect class="or" x="622.5" y="983.1" width="21" height="62.1"/><rect class="or" x="622.5" y="928.3" width="21" height="44.8"/>
<path class="e" d="M468.9,1042.4h8M500.9,1043.8h8M532.8,1043.2h8M565.1,1041.9h8M601.1,993.8V986.7M596.6,986.7h9M633,928.3V918.5M628.5,918.5h9"/>
<path class="ax" d="M472.9,1045.2v4M504.9,1045.2v4M536.8,1045.2v4M569.1,1045.2v4M601.1,1045.2v4M633,1045.2v4"/>
<g class="t2"><text x="472.9" y="1061">0</text><text x="504.9" y="1061">0.25</text><text x="536.8" y="1061">0.5</text><text x="569.1" y="1061">1</text><text x="601.1" y="1061">2.5</text><text x="633" y="1061">5</text></g>
<text x="551" y="1083.8" style="font-size:14px;text-anchor:middle" textLength="97" lengthAdjust="spacingAndGlyphs">HCl-2509 (μM)</text>
<text class="ti" x="560.8" y="921.5" textLength="49" lengthAdjust="spacingAndGlyphs">CCL5</text>
<text class="yl" transform="translate(414,980) rotate(-90)" textLength="129" lengthAdjust="spacingAndGlyphs">mRNA level (Fold)</text>
</g>
<!-- e3 -->
<g>
<path class="ax" d="M724,983.5V1045.2H944.4M724,911.6V973.5M720.3,973.5H726.8M720.3,983.5H726.8"/>
<path class="ax" d="M720,1045.2h4M720,1014.3h4M720,983.5h4M720,950.3h4M720,911.6h4"/>
<text class="t" x="718.3" y="1048.2">0</text><text class="t" x="718.3" y="1017.3">5</text><text class="t" x="718.3" y="986.5">10</text><text class="t" x="718.3" y="953.3">25</text><text class="t" x="718.3" y="914.6">50</text>
<rect class="or" x="742.2" y="1039.4" width="21.8" height="5.8"/>
<rect class="or" x="774.8" y="1041.9" width="21.8" height="3.3"/>
<rect class="or" x="807.5" y="1038.8" width="21.8" height="6.4"/>
<rect class="or" x="840.2" y="1039" width="21.8" height="6.2"/>
<rect class="or" x="872.8" y="993.1" width="21.8" height="52.1"/>
<rect class="or" x="905.5" y="983.5" width="21.8" height="61.7"/><rect class="or" x="905.5" y="926.3" width="21.8" height="47.2"/>
<path class="e" d="M749.1,1038.8h8M785.7,1041.9V1040.1M781.7,1040.1h8M818.4,1038.8V1037.6M814.4,1037.6h8M851.1,1039V1036.5M847.1,1036.5h8M883.7,993.1V986.4M879.2,986.4h9M916.4,926.3V914M911.9,914h9"/>
<path class="ax" d="M753.1,1045.2v4M785.7,1045.2v4M818.4,1045.2v4M851.1,1045.2v4M883.7,1045.2v4M916.4,1045.2v4"/>
<g class="t2"><text x="753.1" y="1061">0</text><text x="785.7" y="1061">0.25</text><text x="818.4" y="1061">0.5</text><text x="851.1" y="1061">1</text><text x="883.7" y="1061">2.5</text><text x="916.4" y="1061">5</text></g>
<text x="831.8" y="1084.7" style="font-size:14px;text-anchor:middle" textLength="97" lengthAdjust="spacingAndGlyphs">HCl-2509 (μM)</text>
<text class="ti" x="825.7" y="925.5" textLength="61.7" lengthAdjust="spacingAndGlyphs">CXCL9</text>
<text class="yl" transform="translate(695,980) rotate(-90)" textLength="129" lengthAdjust="spacingAndGlyphs">mRNA level (Fold)</text>
</g>
<!-- e4 -->
<g>
<path class="ax" d="M1002.8,985.3V1047.4H1212.3M1002.8,913.6V975.3M999.1,975.3H1005.6M999.1,985.3H1005.6"/>
<path class="ax" d="M998.8,1047.4h4M998.8,1026.7h4M998.8,1006h4M998.8,985.3h4M998.8,968h4M998.8,949.9h4M998.8,931.7h4M998.8,913.6h4"/>
<text class="t" x="997.1" y="1050.4">0</text><text class="t" x="997.1" y="1029.7">10</text><text class="t" x="997.1" y="1009">20</text><text class="t" x="997.1" y="988.3">30</text>
<text class="t" x="997.1" y="971">50</text><text class="t" x="997.1" y="952.9">100</text><text class="t" x="997.1" y="934.7">150</text><text class="t" x="997.1" y="916.6">200</text>
<rect class="or" x="1019.6" y="1045.3" width="20.3" height="2.1"/>
<rect class="or" x="1050.8" y="1046.8" width="20.3" height="0.6"/>
<rect class="or" x="1082.4" y="1046.2" width="20.3" height="1.2"/>
<rect class="or" x="1113.2" y="1044.7" width="20.3" height="2.7"/>
<rect class="or" x="1144.8" y="999.8" width="20.3" height="47.6"/>
<rect class="or" x="1176" y="985.3" width="20.3" height="62.1"/><rect class="or" x="1176" y="938.5" width="20.3" height="36.8"/>
<path class="e" d="M1025.7,1044.9h8M1057,1046.4h8M1088.5,1045.8h8M1119.3,1044h8M1154.9,999.8V989.8M1150.4,989.8h9M1186.1,938.5V918.5M1181.6,918.5h9"/>
<path class="ax" d="M1029.7,1047.4v4M1060.9,1047.4v4M1092.5,1047.4v4M1123.3,1047.4v4M1154.9,1047.4v4M1186.1,1047.4v4"/>
<g class="t2"><text x="1029.7" y="1062.9">0</text><text x="1060.9" y="1062.9">0.25</text><text x="1092.5" y="1062.9">0.5</text><text x="1123.3" y="1062.9">1</text><text x="1154.9" y="1062.9">2.5</text><text x="1186.1" y="1062.9">5</text></g>
<text x="1105.2" y="1085.6" style="font-size:14px;text-anchor:middle" textLength="97" lengthAdjust="spacingAndGlyphs">HCl-2509 (μM)</text>
<text class="ti" x="1090.7" y="928.5" textLength="71" lengthAdjust="spacingAndGlyphs">CXCL10</text>
<text class="yl" transform="translate(972.3,981.7) rotate(-90)" textLength="129" lengthAdjust="spacingAndGlyphs">mRNA level (Fold)</text>
</g>
<text x="684.6" y="1112" style="font-size:22px;text-anchor:middle" textLength="57" lengthAdjust="spacingAndGlyphs">EMT6</text>

<!-- ========== PANEL C ========== -->
<g>
<rect class="cb" x="313.7" y="1138.6" width="23.2" height="13.8"/>
<rect class="cr" x="313.7" y="1156.7" width="23.2" height="13.8"/>
<text x="351.3" y="1152.4" style="font-size:19px" textLength="33" lengthAdjust="spacingAndGlyphs">SCR</text>
<text x="351.3" y="1170.5" style="font-size:19px" textLength="127" lengthAdjust="spacingAndGlyphs">LSD1 siRNA</text>
<path class="ax" d="M301.4,1178.6V1381H642" style="stroke-width:2.2"/>
<path class="ax" d="M296.4,1381h5M296.4,1330.4h5M296.4,1279.8h5M296.4,1229.2h5M296.4,1178.6h5" style="stroke-width:2"/>
<g style="font-size:16px;text-anchor:end"><text x="295" y="1386.5">0</text><text x="295" y="1335.9">1</text><text x="295" y="1285.3">2</text><text x="295" y="1234.7">3</text><text x="295" y="1184.1">4</text></g>
<rect class="cb" x="313.6" y="1330.4" width="13.4" height="50.6"/><rect class="cr" x="330.7" y="1311.2" width="13.4" height="69.8"/>
<rect class="cb" x="361.3" y="1330.4" width="13.4" height="50.6"/><rect class="cr" x="378.4" y="1302.6" width="13.4" height="78.4"/>
<rect class="cb" x="409" y="1330.4" width="13.4" height="50.6"/><rect class="cr" x="426.1" y="1345.6" width="13.4" height="35.4"/>
<rect class="cb" x="456.7" y="1330.4" width="13.4" height="50.6"/><rect class="cr" x="473.8" y="1221.6" width="13.4" height="159.4"/>
<rect class="cb" x="504.4" y="1330.4" width="13.4" height="50.6"/><rect class="cr" x="521.5" y="1230.2" width="13.4" height="150.8"/>
<rect class="cb" x="552.1" y="1330.4" width="13.4" height="50.6"/><rect class="cr" x="569.2" y="1253.5" width="13.4" height="127.5"/>
<rect class="cb" x="599.8" y="1330.4" width="13.4" height="50.6"/><rect class="cr" x="616.9" y="1377.5" width="13.4" height="3.5"/>
<path class="e" d="M316.3,1330h8M337.4,1311.2V1306.6M333.4,1306.6h8M368,1330.4V1327.9M364,1327.9h8M385.1,1302.6V1290.9M381.1,1290.9h8M415.7,1330.4V1327.9M411.7,1327.9h8M432.8,1345.6V1322.8M428.8,1322.8h8M459.4,1330h8M480.5,1221.6V1216.5M476.5,1216.5h8M507.1,1329.6h8M528.2,1230.2V1195.3M524.2,1195.3h8M554.8,1330h8M575.9,1253.5V1234.3M571.9,1234.3h8M606.5,1330.4V1325.3M602.5,1325.3h8M623.6,1377.5V1376M619.6,1376h8"/>
<path class="e" d="M322.6,1321V1286.6H335.1V1299.3M465,1231.2V1196.7H477.6V1210M514.3,1215.4V1181.3H526.7V1194M563.1,1253.4V1219H575.5V1232M607.3,1320.7V1307.5H621.9V1333.8"/>
<g class="st"><text x="327.8" y="1289.5" letter-spacing="0.5">**</text><text x="472.3" y="1196" letter-spacing="0.5">***</text><text x="520.6" y="1183.5">*</text><text x="569.4" y="1220" letter-spacing="0.5">**</text><text x="614.3" y="1309" letter-spacing="0.5">***</text></g>
<path class="ax" d="M328.9,1381v6M376.6,1381v6M424.3,1381v6M472,1381v6M519.7,1381v6M567.4,1381v6M615.1,1381v6" style="stroke-width:2"/>
<g style="font-size:18px;text-anchor:end">
<text transform="translate(335.4,1392) rotate(-90)">CCL2</text>
<text transform="translate(383.1,1392) rotate(-90)">CCL3</text>
<text transform="translate(430.8,1392) rotate(-90)">CCL4</text>
<text transform="translate(478.5,1392) rotate(-90)">CCL5</text>
<text transform="translate(526.2,1392) rotate(-90)">CXCL9</text>
<text transform="translate(573.9,1392) rotate(-90)">CXCL10</text>
<text transform="translate(621.6,1392) rotate(-90)">LSD1</text>
</g>
<text transform="translate(274,1280) rotate(-90)" style="font-size:18px;text-anchor:middle" textLength="250" lengthAdjust="spacingAndGlyphs">Relative mRNA level (Fold)</text>
</g>

<!-- ========== PANEL D ========== -->
<g>
<path class="ax" d="M808.5,1229.8V1375.5H1141.4M808.5,1175V1214.7M804.5,1214.7H811.5M804.5,1229.8H811.5" style="stroke-width:2.2"/>
<path class="ax" d="M803.5,1375.5h5M803.5,1339h5M803.5,1302.6h5M803.5,1266.2h5M803.5,1229.8h5M803.5,1202.6h5M803.5,1178.3h5" style="stroke-width:2"/>
<g style="font-size:14.5px;text-anchor:end"><text x="802" y="1380.5">0.0</text><text x="802" y="1344">0.5</text><text x="802" y="1307.6">1.0</text><text x="802" y="1271.2">1.5</text><text x="802" y="1234.8">2.0</text><text x="802" y="1207.6">100</text><text x="802" y="1183.3">200</text></g>
<rect class="dp" x="830.5" y="1175.5" width="23.2" height="14.1"/>
<rect class="do" x="830.5" y="1203.9" width="23.2" height="13.8"/>
<text x="867.6" y="1189.6" style="font-size:19px" textLength="24" lengthAdjust="spacingAndGlyphs">EV</text>
<text x="867.6" y="1217.7" style="font-size:19px" textLength="88.5" lengthAdjust="spacingAndGlyphs">LSD1 OE</text>
<rect class="dp" x="820.75" y="1302.6" width="14.5" height="72.9"/><rect class="do" x="837.05" y="1283" width="14.5" height="92.5"/>
<rect class="dp" x="867.25" y="1302.6" width="14.5" height="72.9"/><rect class="do" x="883.55" y="1266.2" width="14.5" height="109.3"/>
<rect class="dp" x="913.75" y="1302.6" width="14.5" height="72.9"/><rect class="do" x="930.05" y="1300.2" width="14.5" height="75.3"/>
<rect class="dp" x="960.25" y="1302.6" width="14.5" height="72.9"/><rect class="do" x="976.55" y="1331.5" width="14.5" height="44"/>
<rect class="dp" x="1006.75" y="1302.6" width="14.5" height="72.9"/><rect class="do" x="1023.05" y="1330.2" width="14.5" height="45.3"/>
<rect class="dp" x="1053.25" y="1302.6" width="14.5" height="72.9"/><rect class="do" x="1069.55" y="1316.2" width="14.5" height="59.3"/>
<rect class="dp" x="1099.75" y="1302.6" width="14.5" height="72.9"/><rect class="do" x="1116.05" y="1229.8" width="14.5" height="145.7"/><rect class="do" x="1116.05" y="1195.1" width="14.5" height="19.6"/>
<path class="e" d="M828,1302.6V1300.4M824,1300.4h8M844.3,1283V1271.7M840.3,1271.7h8M874.5,1302.2h8M890.8,1266.2V1239.6M886.8,1239.6h8M921,1302.6V1300.6M917,1300.6h8M937.3,1300.2V1282.5M933.3,1282.5h8M967.5,1302.6V1299.6M963.5,1299.6h8M983.8,1331.5V1320.2M979.8,1320.2h8M1014,1302.6V1300.6M1010,1300.6h8M1030.3,1330.2V1324.5M1026.3,1324.5h8M1060.5,1302.6V1299M1056.5,1299h8M1076.8,1316.2V1309.4M1072.8,1309.4h8M1107,1302.6V1300.4M1103,1300.4h8M1123.3,1195.1V1182.5M1119.3,1182.5h8"/>
<path class="e" d="M971.8,1290.6V1273H985.6V1319.4M1015.8,1296.8V1280.5H1027.7V1325.7M1062.9,1283V1265.4H1076.7V1308.1M1109.3,1207.2V1162H1122.5V1175"/>
<g class="st"><text x="978" y="1275">*</text><text x="1021.4" y="1282.5" letter-spacing="0.5">**</text><text x="1069.7" y="1267.5">*</text><text x="1116.2" y="1163.5" letter-spacing="0.5">***</text></g>
<path class="ax" d="M836,1375.5v6M882.5,1375.5v6M929,1375.5v6M975.5,1375.5v6M1022,1375.5v6M1068.5,1375.5v6M1115,1375.5v6" style="stroke-width:2"/>
<g style="font-size:18px;text-anchor:end">
<text transform="translate(842.5,1385) rotate(-90)">CCL2</text>
<text transform="translate(889,1385) rotate(-90)">CCL3</text>
<text transform="translate(935.5,1385) rotate(-90)">CCL4</text>
<text transform="translate(982,1385) rotate(-90)">CCL5</text>
<text transform="translate(1028.5,1385) rotate(-90)">CXCL9</text>
<text transform="translate(1075,1385) rotate(-90)">CXCL10</text>
<text transform="translate(1121.5,1385) rotate(-90)">LSD1</text>
</g>
<text transform="translate(761.5,1276) rotate(-90)" style="font-size:18px;text-anchor:middle" textLength="242" lengthAdjust="spacingAndGlyphs">Relative mRNA level (Fold)</text>
</g>
<text x="696" y="1493" style="font-size:22px;text-anchor:middle" textLength="139" lengthAdjust="spacingAndGlyphs">MDA-MB-231</text>
</svg>
</body></html>
